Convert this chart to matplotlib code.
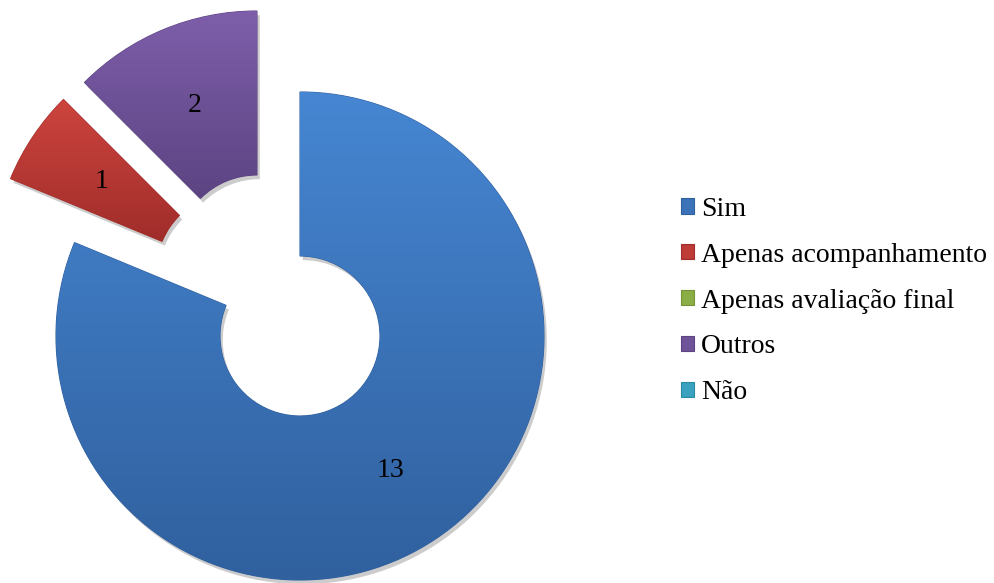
import matplotlib
matplotlib.use("Agg")
import matplotlib.pyplot as plt
import matplotlib.patheffects as pe
from matplotlib.patches import Patch
from matplotlib.colors import LinearSegmentedColormap
import numpy as np

plt.rcParams['font.family'] = ['Liberation Serif', 'DejaVu Serif']

categorias = ["Sim", "Apenas acompanhamento", "Apenas avaliação final", "Outros", "Não"]
respostas = [13, 1, 0, 2, 0]

# cor média, cor do topo e cor da base de cada fatia (degradê vertical)
cores = ["#3C72B8", "#BE3B36", "#8AAD45", "#6F5398", "#3AA2BE"]
cores_topo = ["#4686D2", "#CD443E", "#9CC254", "#7E5EAA", "#4BB4D0"]
cores_base = ["#30609E", "#A02D2A", "#759438", "#5C4482", "#2D8AA4"]

# deslocamento (em px) das fatias destacadas
deslocamento = {1: (-64, 64), 3: (-43, 81)}

fonte = {'family': ['Liberation Serif', 'DejaVu Serif'], 'size': 20}

fig = plt.figure(figsize=(9.94, 5.83), dpi=100)
ax = fig.add_axes([0, 0, 1, 1])

cx, cy = 300, 247
raio = 244
largura = 164

wedges, _ = ax.pie(respostas, startangle=90, counterclock=False,
                   center=(cx, cy), radius=raio, colors=cores,
                   wedgeprops=dict(width=largura, linewidth=0))

grad = np.linspace(0, 1, 256).reshape(-1, 1)
for i, w in enumerate(wedges):
    if respostas[i] == 0:
        w.set_visible(False)
        continue
    if i in deslocamento:
        dx, dy = deslocamento[i]
        w.set_center((cx + dx, cy + dy))
    w.set_edgecolor(cores_base[i])
    w.set_linewidth(0.8)
    w.set_path_effects([pe.SimplePatchShadow(offset=(2, -3), shadow_rgbFace='k', alpha=0.2),
                        pe.Normal()])
    bb = w.get_path().get_extents()
    cmap = LinearSegmentedColormap.from_list("g%d" % i, [cores_base[i], cores_topo[i]])
    im = ax.imshow(grad, cmap=cmap, origin='lower', aspect='auto',
                   extent=(bb.x0, bb.x1, bb.y0, bb.y1), zorder=2)
    im.set_clip_path(w)

    # rótulo com o valor no meio do anel
    ang = np.deg2rad((w.theta1 + w.theta2) / 2)
    xc, yc = w.center
    rr = raio - largura / 2
    ax.text(xc + rr * np.cos(ang), yc + rr * np.sin(ang), str(respostas[i]),
            ha='center', va='center', fontdict=fonte, color='black', zorder=3)

handles = [Patch(facecolor=c, edgecolor=cb, linewidth=0.8) for c, cb in zip(cores, cores_base)]
ax.legend(handles, categorias, loc='center left', bbox_to_anchor=(681, 282),
          bbox_transform=ax.transData, frameon=False, prop=fonte,
          handlelength=0.47, handleheight=0.47, handletextpad=0.25,
          labelspacing=0.75, borderpad=0, borderaxespad=0)

ax.set_xlim(0, 994)
ax.set_ylim(0, 583)
ax.set_aspect('auto')
ax.axis('off')

fig.savefig("out.png", dpi=100)
